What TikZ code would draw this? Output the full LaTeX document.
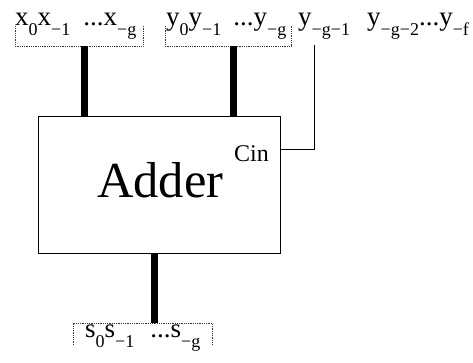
\documentclass[tikz,border=0pt]{standalone}
\usepackage{fontspec}
\setmainfont{Liberation Serif}
% lowered subscript in the label font
\newcommand\lowsub[1]{\raisebox{-10pt}{\fontsize{18}{18}\selectfont #1}}
\begin{document}
\begin{tikzpicture}[x=1pt,y=-1pt,
  sig/.style={inner sep=0pt,anchor=base west,font=\fontsize{27}{27}\selectfont},
  bracketline/.style={densely dotted,line width=0.8pt,black!80},
  bus/.style={line width=7pt},
  wire/.style={line width=1pt}]
\useasboundingbox (0,0) rectangle (473,362);

% input and output words
\node[sig] (xw) at (15,25) {x\lowsub{0}x\lowsub{−1}\hspace{13pt}...x\lowsub{−g}};
\node[sig] (yw) at (166,25) {y\lowsub{0}y\lowsub{−1}\hspace{12pt}...y\lowsub{−g}};
\node[sig] (yc) at (298,25) {y\lowsub{−g−1}};
\node[sig] (yr) at (367,25) {y\lowsub{−g−2}...y\lowsub{−f}};
\node[sig] (sw) at (85,337) {s\lowsub{0}s\lowsub{−1}\hspace{16pt}...s\lowsub{−g}};

% dotted brackets grouping the words
\draw[bracketline] (15,26) -- (15,46) -- (143,46) -- (143,26);
\draw[bracketline] (165,26) -- (165,46) -- (291,46) -- (291,26);
\draw[bracketline] (73,345) -- (73,323) -- (212,323) -- (212,345);
\coordinate (xb) at (84,46);
\coordinate (yb) at (233,46);
\coordinate (sb) at (154,323);

% adder block
\node[draw,line width=1pt,minimum width=242pt,minimum height=137pt,inner sep=0pt] (adder) at (159,185) {};
\node[inner sep=0pt,anchor=base west,font=\fontsize{50.5}{50.5}\selectfont] (adtext) at (97,197) {Adder};
\node[inner sep=0pt,anchor=base west,font=\fontsize{24}{24}\selectfont] (cin) at (234,161) {Cin};

% buses and carry-in wire
\draw[bus] (xb) -- (xb |- adder.north);
\draw[bus] (yb) -- (yb |- adder.north);
\draw[bus] (sb |- adder.south) -- (sb);
\coordinate (ct) at (314,45);
\draw[wire] (ct) |- (adder.east |- 0,149);
\end{tikzpicture}
\end{document}
